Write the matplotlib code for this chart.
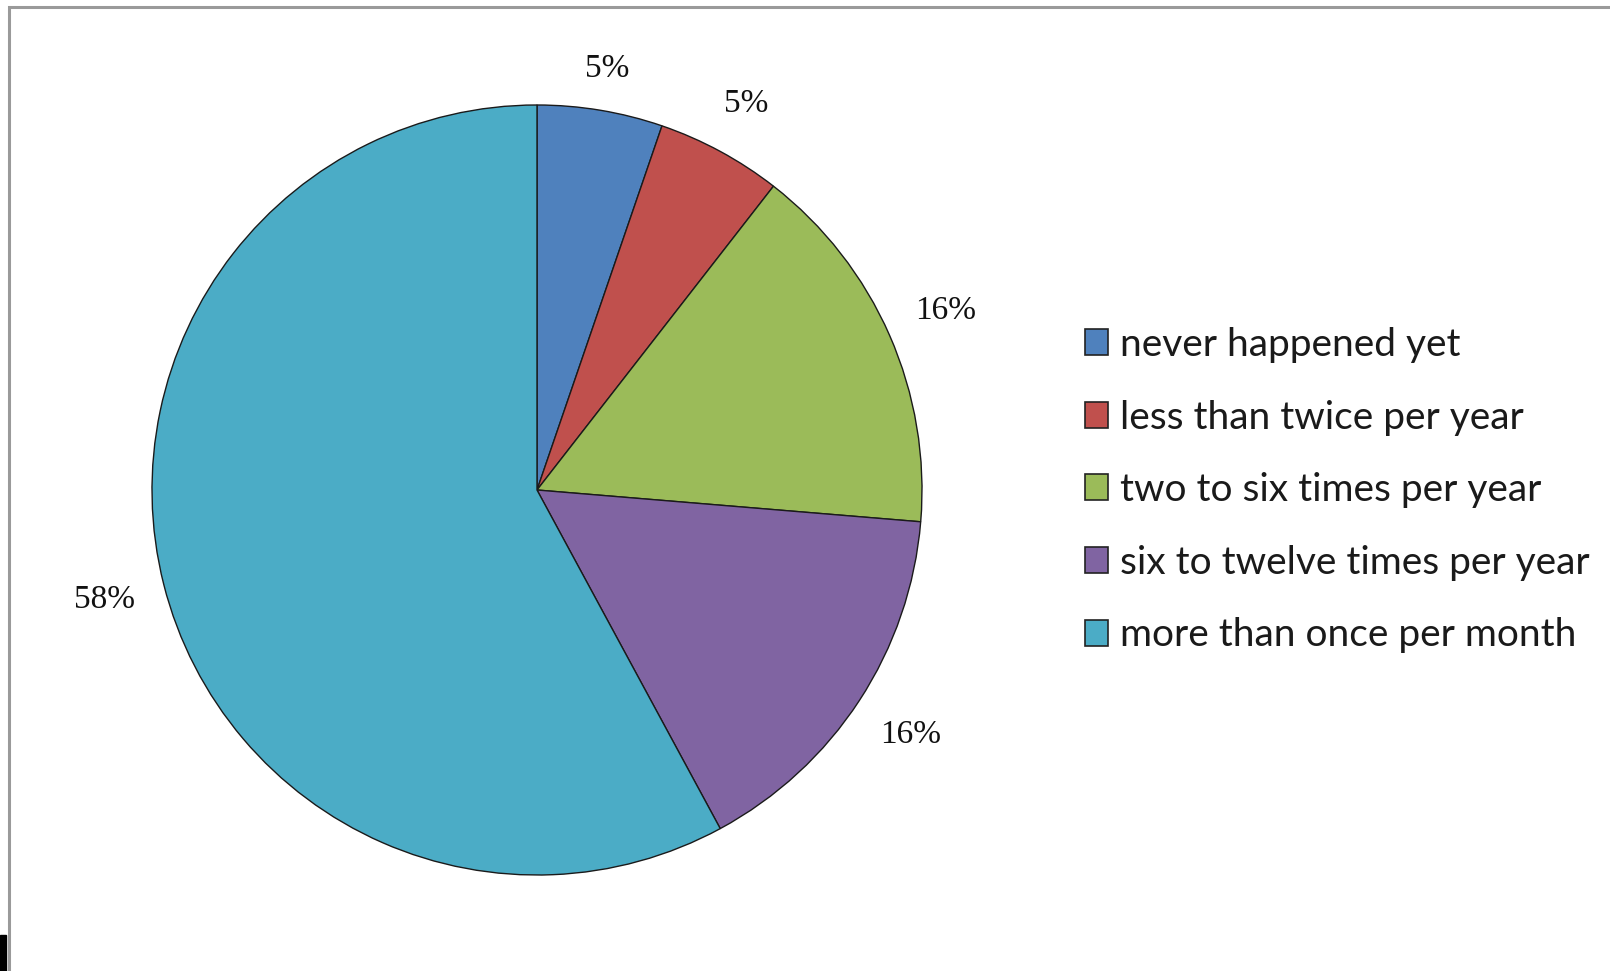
import matplotlib.pyplot as plt
import matplotlib.patches as mpatches

# survey answers (counts of respondents)
categories = ['never happened yet', 'less than twice per year',
              'two to six times per year', 'six to twelve times per year',
              'more than once per month']
counts = [1, 1, 3, 3, 11]
colors = ['#4F81BD', '#C0504D', '#9BBB59', '#8064A2', '#4BACC6']
label_dist = [1.11, 1.14, 1.16, 1.16, 1.16]   # Excel-style label offsets

W, H = 1610, 971
fig = plt.figure(figsize=(W / 100, H / 100), dpi=100)
fig.patch.set_facecolor('white')

# pie axes: centre at (537, 490) px, radius 385 px
R = 385
cx, cy = 537, 490
half = 1.2 * R
ax = fig.add_axes([(cx - half) / W, (H - cy - half) / H, 2 * half / W, 2 * half / H])

wedges, texts, autotexts = ax.pie(
    counts, colors=colors, startangle=90, counterclock=False,
    autopct=lambda p: f'{p:.0f}%', pctdistance=1.0,
    wedgeprops=dict(edgecolor='#1a1a1a', linewidth=1.0),
    textprops=dict(fontsize=24, family='Liberation Serif', color='#111111'))
for t, d in zip(autotexts, label_dist):
    x, y = t.get_position()
    t.set_position((x * d, y * d))
ax.set_xlim(-1.2, 1.2)
ax.set_ylim(-1.2, 1.2)
ax.set_aspect('equal')
ax.axis('off')

handles = [mpatches.Patch(facecolor=c, edgecolor='#222222', linewidth=1.2) for c in colors]
leg = fig.legend(handles, categories, loc='upper left',
                 bbox_to_anchor=(1085 / W, 1 - 327 / H),
                 frameon=False, prop=dict(family='Lato', size=28),
                 handlelength=0.6, handleheight=0.65, handletextpad=0.3,
                 labelspacing=0.94, borderpad=0, borderaxespad=0)
for t in leg.get_texts():
    t.set_color('#1a1a1a')

# outer chart frame and the dark corner mark
fig.add_artist(mpatches.Rectangle((9 / W, -0.1), 2.0, (H - 7) / H + 0.1,
                                  transform=fig.transFigure, fill=False,
                                  edgecolor='#9a9a9a', linewidth=2.2))
fig.add_artist(mpatches.Rectangle((0, 0), 6 / W, 36 / H,
                                  transform=fig.transFigure, color='black'))

fig.savefig('out.png', dpi=100)
